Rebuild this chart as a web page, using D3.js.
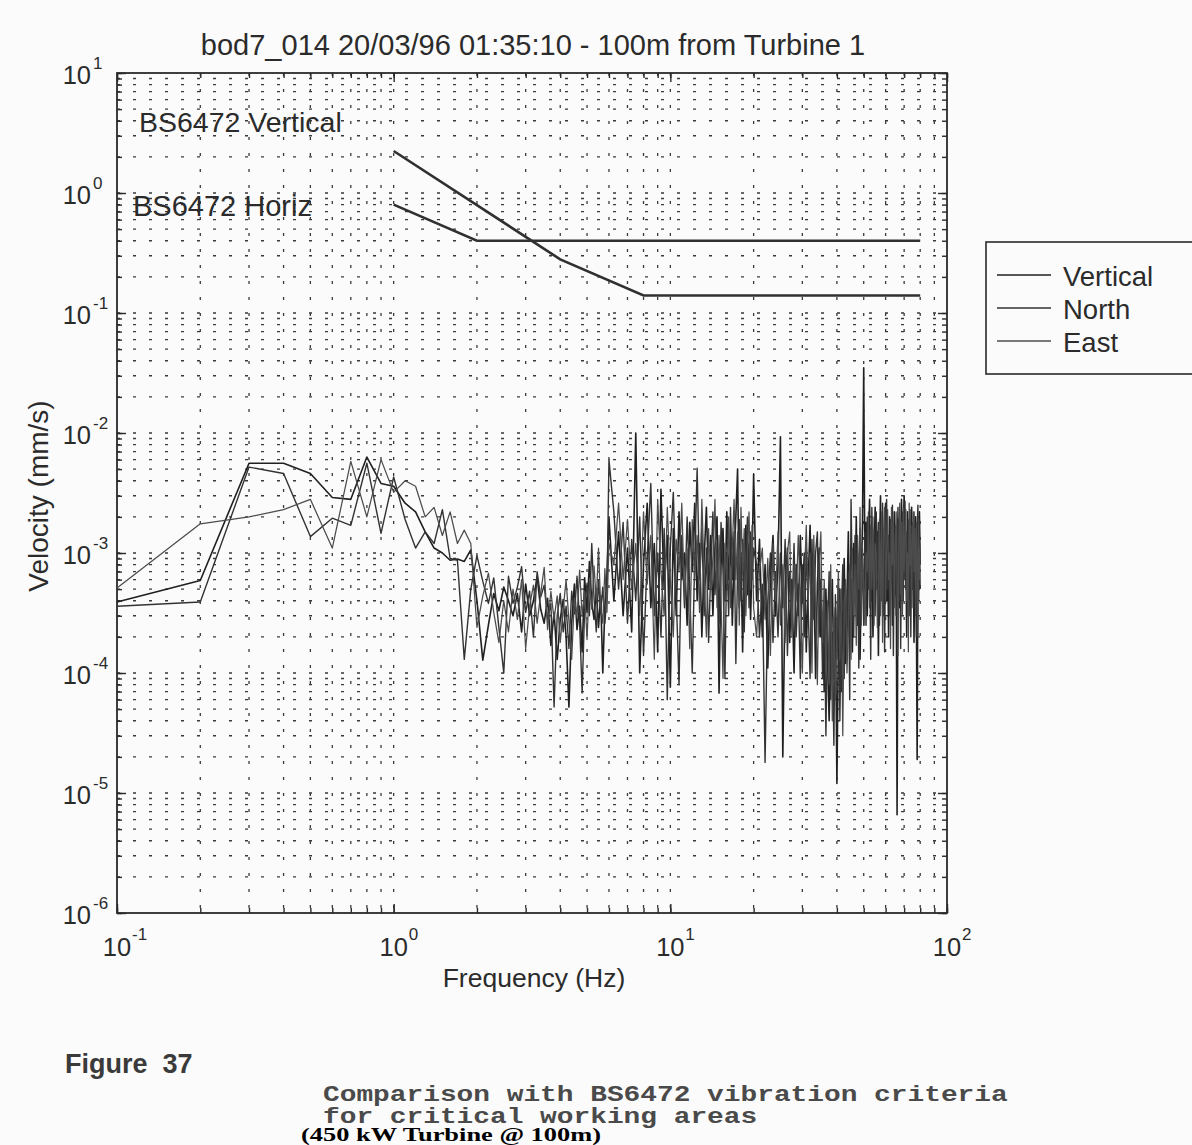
<!DOCTYPE html>
<html><head><meta charset="utf-8">
<script src="https://cdn.jsdelivr.net/npm/d3@7"></script>
<style>
body{margin:0;background:#fbfbfb;}
svg{display:block;}
text{fill:#2b2b2b;}
</style>
</head><body>
<svg id="c" width="1192" height="1145"></svg>
<script>
// ---------------- DATA ----------------
const titleText = "bod7_014 20/03/96 01:35:10 - 100m from Turbine 1";
const xLabel = "Frequency (Hz)";
const yLabel = "Velocity (mm/s)";
const seriesNames = ["Vertical", "North", "East"];
const xTickExponents = [-1, 0, 1, 2];
const yTickExponents = [-6, -5, -4, -3, -2, -1, 0, 1];

// frequency grid (Hz)
const freqLow = d3.range(1, 61).map(i => i / 10);    // 0.1 .. 6.0
const freqMid = d3.range(25, 81).map(i => i / 4);    // 6.25 .. 20
const freqHigh = d3.range(41, 161).map(i => i / 2);  // 20.5 .. 80

// velocity (mm/s)
const vertLow = [3.9e-4,5.9e-4,5.6e-3,5.6e-3,4.6e-3,2.9e-3,2.8e-3,6.3e-3,3.8e-3,3.6e-3,
 2.6e-3,2.2e-3,1.5e-3,1.1e-3,1.0e-3,8.7e-4,8.9e-4,8.5e-4,1.06e-3,4.0e-4,
 1.28e-4,2.5e-4,4.6e-4,3.3e-4,5.2e-4,4.0e-4,3.0e-4,4.6e-4,2.2e-4,5.5e-4,
 3.0e-4,4.0e-4,6.4e-4,3.4e-4,2.6e-4,4.2e-4,1.7e-4,3.2e-4,1.3e-4,2.8e-4,
 4.1e-4,2.0e-4,5.2e-5,2.6e-4,5.5e-4,2.3e-4,3.6e-4,1.5e-4,6.2e-4,3.2e-4,
 8.5e-4,3.9e-4,2.8e-4,5.0e-4,2.4e-4,4.4e-4,1.0e-4,3.6e-4,6.4e-4,2.0e-3];
const northLow = [3.6e-4,3.9e-4,5.2e-3,4.6e-3,1.37e-3,1.95e-3,1.7e-3,5.6e-3,1.46e-3,4.3e-3,
 1.9e-3,1.1e-3,1.5e-3,1.2e-3,2.3e-3,9.0e-4,8.7e-4,1.3e-4,5.0e-4,9.5e-4,
 5.8e-4,3.8e-4,6.2e-4,2.4e-4,1.0e-4,6.4e-4,3.8e-4,5.2e-4,7.7e-4,3.2e-4,
 4.8e-4,2.0e-4,7.0e-4,4.3e-4,5.4e-4,2.8e-4,3.8e-4,5.2e-5,3.0e-4,4.6e-4,
 2.2e-4,3.6e-4,1.6e-4,4.8e-4,3.1e-4,6.4e-4,2.6e-4,6.8e-5,3.4e-4,5.6e-4,
 3.0e-4,1.2e-3,4.2e-4,2.2e-4,6.0e-4,3.2e-4,5.2e-4,2.6e-4,4.4e-4,6.0e-3];
const eastLow = [5.1e-4,1.75e-3,2.0e-3,2.3e-3,2.8e-3,1.1e-3,5.8e-3,2.0e-3,6.0e-3,3.2e-3,
 4.0e-3,3.6e-3,2.0e-3,2.4e-3,1.4e-3,2.2e-3,1.2e-3,1.55e-3,1.2e-3,2.4e-4,
 4.4e-4,6.8e-4,3.2e-4,1.8e-4,4.0e-4,2.2e-4,5.0e-4,2.8e-4,6.0e-4,1.6e-4,
 3.6e-4,5.4e-4,2.6e-4,4.6e-4,7.6e-4,2.3e-4,4.8e-4,2.8e-4,4.4e-4,1.8e-4,
 3.4e-4,6.0e-4,2.7e-4,1.3e-4,4.2e-4,2.9e-4,7.2e-4,3.0e-4,4.8e-4,1.9e-4,
 5.8e-4,3.4e-4,7.8e-4,4.0e-4,1.1e-3,3.6e-4,2.6e-4,7.4e-4,3.2e-4,1.2e-3];

const vertMid = [4.0e-4,1.5e-3,3.0e-4,1.1e-3, 2.2e-4,1.0e-2,1.0e-4,8.0e-4, 2.6e-3,3.5e-4,1.2e-3,1.5e-4,
 3.4e-3,5.0e-4,1.4e-3,7.6e-5, 1.6e-3,3.0e-4,2.2e-3,6.0e-4, 1.0e-3,2.5e-4,1.8e-3,7.0e-4,
 2.6e-3,4.0e-4,1.2e-3,2.0e-4, 9.0e-4,2.4e-3,5.0e-4,1.4e-3, 3.0e-4,1.1e-3,2.0e-3,6.8e-5,
 8.0e-4,1.6e-3,4.0e-4,2.2e-3, 6.0e-4,1.3e-3,2.5e-4,9.0e-4, 2.0e-3,5.0e-3,3.5e-4,1.0e-3,
 1.5e-4,8.0e-4,1.7e-3,4.5e-4, 1.2e-3,2.8e-4,9.0e-4,4.5e-3];
const northMid = [2.2e-3,5.0e-4,1.8e-3,2.6e-4, 1.3e-3,4.0e-4,2.0e-3,1.4e-4, 9.0e-4,3.8e-3,3.0e-4,1.0e-3,
 2.0e-4,1.6e-3,6.0e-5,1.1e-3, 3.2e-3,4.5e-4,8.0e-5,1.4e-3, 3.5e-4,2.0e-3,5.0e-4,1.0e-4,
 9.0e-4,5.1e-3,6.0e-4,1.6e-3, 3.0e-4,1.1e-3,1.8e-4,7.0e-4, 2.2e-3,4.5e-4,1.2e-3,2.6e-4,
 1.8e-3,7.0e-4,9.0e-5,1.0e-3, 3.0e-4,2.4e-3,6.0e-4,1.5e-3, 1.2e-4,7.0e-4,1.9e-3,4.0e-4,
 1.3e-3,2.2e-4,9.0e-4,2.0e-3, 3.5e-4,1.5e-3,6.0e-4,1.1e-3];
const eastMid = [8.0e-4,2.6e-3,6.0e-4,1.9e-3, 5.0e-4,1.2e-3,3.0e-4,2.2e-3, 5.5e-4,1.4e-3,1.3e-4,2.8e-3,
 7.0e-4,3.0e-4,2.4e-3,6.0e-4, 2.0e-4,1.3e-3,7.0e-4,2.6e-3, 4.0e-4,1.1e-3,1.6e-4,1.9e-3,
 6.0e-4,1.4e-3,3.2e-4,2.8e-3, 6.5e-4,2.0e-4,1.6e-3,5.0e-4, 9.0e-4,2.8e-3,3.5e-4,1.4e-3,
 4.0e-4,9.0e-5,1.2e-3,5.5e-4, 2.0e-3,3.5e-4,1.1e-3,2.8e-3, 6.0e-4,1.5e-3,2.5e-4,2.4e-3,
 7.0e-4,1.6e-3,3.0e-4,1.0e-3, 2.2e-3,5.0e-4,1.7e-3,3.5e-4];

const vertHigh = [4e-4,1.3e-3,2e-4,8e-4,1.1e-4,6e-4,1.4e-3,3e-4,8e-4,9.3e-3,
 2e-5,5e-4,1.1e-3,1.8e-4,6e-4,1e-4,8e-4,3e-4,1.4e-3,4e-4,
 1e-3,1.5e-4,6e-4,1.7e-3,2.5e-4,8e-4,9e-5,5.5e-4,1.1e-3,2e-4,
 3e-4,7e-5,5e-4,1.3e-4,4e-5,2.2e-4,6e-4,9e-5,3.5e-4,1.2e-5,
 1.8e-4,5e-4,7e-5,3e-4,9e-4,1.2e-4,4e-4,1.5e-3,2e-4,6e-4,
 1.5e-4,1.2e-3,4e-4,2e-3,2.5e-4,8e-4,1.3e-4,6e-4,1.8e-3,3.5e-2,
 6e-4,1.8e-3,3e-4,1.1e-3,2.8e-3,4e-4,1.3e-3,2e-4,9e-4,2.4e-3,
 5e-4,1.5e-3,1.4e-4,1e-3,3e-3,6e-4,1.6e-3,3e-4,1.1e-3,2.6e-3,
 4e-4,1.2e-3,2e-4,2e-3,7e-4,1.4e-3,2.5e-4,9e-4,2.2e-3,4.5e-4,
 1.3e-3,6.6e-6,8e-4,1.9e-3,3.5e-4,1.2e-3,2.8e-3,5e-4,1.5e-3,3e-3,
 6e-4,1.1e-3,2e-4,2.2e-3,7e-4,1.6e-3,3e-4,1e-3,2.4e-3,5e-4,
 1.3e-3,1.8e-4,9e-4,2e-3,4e-4,1.9e-5,1.1e-3,6e-4,2.2e-3,8e-4];
const northHigh = [8e-4,2e-4,5.5e-4,1.8e-5,4e-4,1e-3,1.8e-4,7e-4,2e-4,1e-3,
 3.5e-4,1.3e-3,1.4e-4,7e-4,2.8e-4,1.2e-3,2e-4,5.5e-4,9e-5,8e-4,
 2e-4,1.1e-3,3.5e-4,9e-5,1.3e-3,2.8e-4,1e-3,1.5e-3,2e-4,6e-4,
 9e-5,4e-4,3e-5,2.5e-4,7e-4,6e-5,2.2e-4,2.5e-5,4.5e-4,1.3e-4,
 6e-4,4e-5,3e-4,8e-4,9e-5,5e-4,1.8e-4,7e-4,6e-5,2.8e-3,
 5e-4,2e-4,1.4e-3,3e-4,1e-3,1.1e-4,1.6e-3,4e-4,9e-4,2.5e-4,
 1.5e-3,2.5e-4,2e-3,5e-4,1.2e-3,1.3e-4,2.4e-3,7e-4,1.6e-3,3e-4,
 2.2e-3,6e-4,1.8e-3,2.5e-4,1.2e-3,4e-4,2.6e-3,8e-4,1.5e-4,1.3e-3,
 2.8e-3,5e-4,1.4e-3,3e-4,1.9e-3,6e-4,2.5e-3,1.4e-4,1e-3,1.7e-3,
 3e-4,1.2e-3,2.4e-3,4e-4,1.5e-3,1.6e-4,9e-4,2.2e-3,4e-4,1.3e-3,
 2.7e-3,5e-4,1.5e-3,3e-4,1.9e-3,7e-4,2.3e-3,2e-4,1.2e-3,1.8e-3,
 3.5e-4,2.2e-3,6e-4,1.4e-3,2e-4,1.6e-3,2.5e-3,4e-4,1.2e-3,5e-4];
const eastHigh = [2e-4,7e-4,1.1e-3,2.8e-4,9e-4,1.4e-4,1.2e-3,4e-4,1.5e-3,2.5e-4,
 8e-4,1.8e-4,1e-3,1.5e-3,2e-4,8e-4,4e-4,1.4e-3,5e-4,1e-4,
 6e-4,1.7e-3,4e-4,1e-3,1e-4,1.4e-3,3.5e-4,8e-5,8e-4,1.5e-3,
 1.8e-4,6e-4,1.1e-4,4e-4,8e-5,8e-4,4e-5,3e-4,6e-5,2.5e-4,
 7e-4,1.3e-4,5e-4,3e-5,3.5e-4,6e-4,1e-4,2.5e-4,8e-4,1.3e-4,
 1.1e-3,3e-4,8e-4,1.7e-4,1.4e-3,5e-4,2.4e-3,2.5e-4,1.1e-3,5e-4,
 2.5e-4,1e-3,7e-4,2.2e-3,3.5e-4,1.7e-3,5e-4,2e-3,2.5e-4,1.2e-3,
 1e-3,2.4e-4,5e-4,1.9e-3,3e-4,2.2e-3,1.8e-4,1.3e-3,2.4e-3,4e-4,
 1e-3,2.3e-3,6e-4,1e-3,1.6e-4,2.4e-3,8e-4,1.8e-3,3.5e-4,1.1e-3,
 2.2e-3,6e-4,1.4e-4,1.3e-3,2.6e-3,4.5e-4,1.8e-3,3e-4,2.4e-3,7e-4,
 1.4e-3,2.3e-3,4e-4,1e-3,1.5e-4,2.6e-3,8e-4,1.7e-3,3.5e-4,1.3e-3,
 2.2e-3,7e-4,1.6e-3,3e-4,1.8e-3,9e-4,2e-4,1.9e-3,6e-4,1.1e-3];

// BS6472 criteria curves
const bsVertFreq = [1, 4, 8, 80];
const bsVertVel = [2.24, 0.28, 0.14, 0.14];
const bsHorizFreq = [1, 2, 80];
const bsHorizVel = [0.8, 0.4, 0.4];
const bsVertLabel = "BS6472 Vertical";
const bsHorizLabel = "BS6472 Horiz";

const captionFigure = "Figure  37";
const captionLines = ["Comparison with BS6472 vibration criteria", "for critical working areas"];
const captionNote = "(450 kW Turbine @ 100m)";

// ---------------- DRAW ----------------
const W = 1192, H = 1145;
const P = {l: 117, t: 73, r: 947, b: 913};
const ink = "#2a2a2a";
const SANS = "'Liberation Sans', Arial, Helvetica, sans-serif";
const MONO = "'Liberation Mono', 'Courier New', monospace";
const SERIF = "'Liberation Serif', 'Times New Roman', serif";
const svg = d3.select("#c").style("font-family", SANS);
svg.append("rect").attr("width", W).attr("height", H).attr("fill", "#fbfbfb");

const x = d3.scaleLog().domain([0.1, 100]).range([P.l, P.r]);
const y = d3.scaleLog().domain([1e-6, 10]).range([P.b, P.t]);

const freqs = freqLow.concat(freqMid, freqHigh);
const series = [
  {name: seriesNames[0], vals: vertLow.concat(vertMid, vertHigh), color: "#202020", w: 1.6},
  {name: seriesNames[1], vals: northLow.concat(northMid, northHigh), color: "#333333", w: 1.4},
  {name: seriesNames[2], vals: eastLow.concat(eastMid, eastHigh), color: "#4c4c4c", w: 1.25}
];

// minor / major positions
const xAll = [], yAll = [];
[-1, 0, 1].forEach(e => d3.range(1, 10).forEach(k => xAll.push(k * Math.pow(10, e))));
xAll.push(100);
[-6, -5, -4, -3, -2, -1, 0].forEach(e => d3.range(1, 10).forEach(k => yAll.push(k * Math.pow(10, e))));
yAll.push(10);
const xMajor = xTickExponents.map(e => Math.pow(10, e));
const yMajor = yTickExponents.map(e => Math.pow(10, e));

// dotted grid
const grid = svg.append("g").attr("stroke", "#3a3a3a").attr("stroke-width", 1.3)
  .attr("stroke-dasharray", "3,13");
grid.selectAll(".gx").data(xAll.filter(v => v > 0.1 * 1.001 && v < 99.9)).join("line")
  .attr("x1", d => x(d)).attr("x2", d => x(d)).attr("y1", P.t).attr("y2", P.b);
grid.selectAll(".gy").data(yAll.filter(v => v > 1.001e-6 && v < 9.99)).join("line")
  .attr("y1", d => y(d)).attr("y2", d => y(d)).attr("x1", P.l).attr("x2", P.r);

// ticks (inward, all four sides) via d3 axes
function ticks(axisFn, scale, vals, size, transform) {
  const g = svg.append("g").attr("transform", transform)
    .call(axisFn(scale).tickValues(vals).tickSize(size).tickFormat(""));
  g.select(".domain").remove();
  g.selectAll("line").attr("stroke", ink).attr("stroke-width", 1.4);
}
ticks(d3.axisBottom, x, xAll, -5, `translate(0,${P.b})`);
ticks(d3.axisBottom, x, xMajor, -9, `translate(0,${P.b})`);
ticks(d3.axisTop, x, xAll, -5, `translate(0,${P.t})`);
ticks(d3.axisTop, x, xMajor, -9, `translate(0,${P.t})`);
ticks(d3.axisLeft, y, yAll, -5, `translate(${P.l},0)`);
ticks(d3.axisLeft, y, yMajor, -9, `translate(${P.l},0)`);
ticks(d3.axisRight, y, yAll, -5, `translate(${P.r},0)`);
ticks(d3.axisRight, y, yMajor, -9, `translate(${P.r},0)`);

// frame
svg.append("rect").attr("x", P.l).attr("y", P.t).attr("width", P.r - P.l).attr("height", P.b - P.t)
  .attr("fill", "none").attr("stroke", ink).attr("stroke-width", 1.8);

// tick labels
const xl = svg.append("g");
xTickExponents.forEach(e => {
  const px = x(Math.pow(10, e));
  xl.append("text").attr("x", px).attr("y", 956).attr("text-anchor", "middle")
    .attr("font-size", 25.5).text("10");
  xl.append("text").attr("x", px + 15).attr("y", 940).attr("font-size", 17).text(String(e));
});
const yl = svg.append("g");
yTickExponents.forEach(e => {
  const py = y(Math.pow(10, e));
  yl.append("text").attr("x", 91).attr("y", py + 11).attr("text-anchor", "end")
    .attr("font-size", 25.5).text("10");
  yl.append("text").attr("x", 93).attr("y", py - 4).attr("font-size", 17).text(String(e));
});

// data lines
const line = d3.line().x(d => x(d[0])).y(d => y(d[1]));
series.forEach(s => {
  svg.append("path").datum(freqs.map((f, i) => [f, s.vals[i]]))
    .attr("d", line).attr("fill", "none").attr("stroke", s.color)
    .attr("stroke-width", s.w).attr("stroke-linejoin", "round");
});

// BS6472 criteria
[[bsVertFreq, bsVertVel], [bsHorizFreq, bsHorizVel]].forEach(([fs, vs]) => {
  svg.append("path").datum(fs.map((f, i) => [f, vs[i]])).attr("d", line)
    .attr("fill", "none").attr("stroke", "#303030").attr("stroke-width", 2.6);
});
svg.append("text").attr("x", 139).attr("y", 132).attr("font-size", 28.5).text(bsVertLabel);
svg.append("text").attr("x", 133).attr("y", 216).attr("font-size", 29).text(bsHorizLabel);

// title and axis labels
svg.append("text").attr("x", 533).attr("y", 55).attr("text-anchor", "middle")
  .attr("font-size", 29).text(titleText);
svg.append("text").attr("x", 534).attr("y", 987).attr("text-anchor", "middle")
  .attr("font-size", 26.5).text(xLabel);
svg.append("text").attr("transform", "translate(48,496) rotate(-90)").attr("text-anchor", "middle")
  .attr("font-size", 28).text(yLabel);

// legend
const lg = svg.append("g");
lg.append("rect").attr("x", 986).attr("y", 242).attr("width", 215).attr("height", 132)
  .attr("fill", "#fbfbfb").attr("stroke", ink).attr("stroke-width", 1.6);
series.forEach((s, i) => {
  const ly = 275 + i * 33;
  lg.append("line").attr("x1", 997).attr("x2", 1051).attr("y1", ly).attr("y2", ly)
    .attr("stroke", s.color).attr("stroke-width", 1.5);
  lg.append("text").attr("x", 1063).attr("y", ly + 11).attr("font-size", 27.5).text(s.name);
});

// captions below
svg.append("text").attr("x", 65).attr("y", 1073).attr("font-size", 27)
  .attr("font-weight", "bold").style("white-space", "pre").style("fill", "#3a3a3a").text(captionFigure);
captionLines.forEach((t, i) => {
  svg.append("text").attr("x", 323).attr("y", 1101 + i * 22).attr("font-size", 22)
    .style("font-family", MONO).attr("font-weight", "bold").style("fill", "#4a4a4a")
    .attr("textLength", t.length * 16.7).attr("lengthAdjust", "spacingAndGlyphs").text(t);
});
svg.append("text").attr("x", 301).attr("y", 1141).attr("font-size", 19)
  .style("font-family", SERIF).attr("font-weight", "bold")
  .attr("textLength", 300).attr("lengthAdjust", "spacingAndGlyphs")
  .style("fill", "#000").text(captionNote);
</script>
</body></html>
